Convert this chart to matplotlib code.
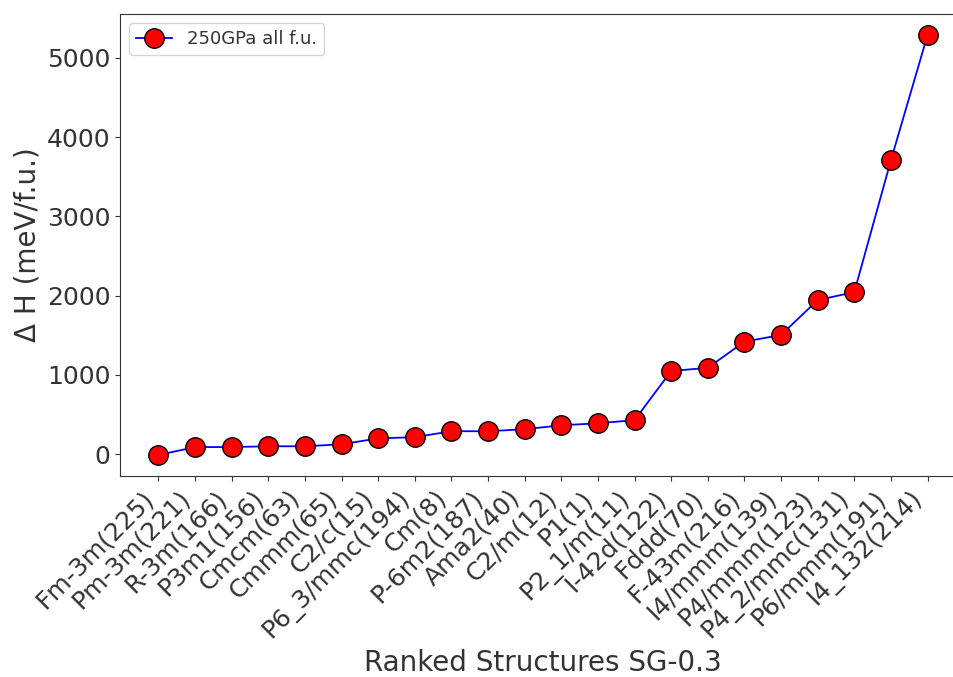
import matplotlib
matplotlib.use("Agg")
import matplotlib.pyplot as plt

# ranked structures and their enthalpy differences
structures = ["Fm-3m(225)", "Pm-3m(221)", "R-3m(166)", "P3m1(156)", "Cmcm(63)",
              "Cmmm(65)", "C2/c(15)", "P6_3/mmc(194)", "Cm(8)", "P-6m2(187)",
              "Ama2(40)", "C2/m(12)", "P1(1)", "P2_1/m(11)", "I-42d(122)",
              "Fddd(70)", "F-43m(216)", "I4/mmm(139)", "P4/mmm(123)",
              "P4_2/mmc(131)", "P6/mmm(191)", "I4_132(214)"]
dH = [-10, 90, 90, 100, 100, 125, 200, 215, 290, 290, 315, 365, 390, 430,
      1050, 1090, 1420, 1505, 1945, 2045, 3710, 5290]

plt.rcParams['text.color'] = '#333333'
plt.rcParams['axes.labelcolor'] = '#333333'
plt.rcParams['xtick.color'] = '#333333'
plt.rcParams['ytick.color'] = '#333333'
plt.rcParams['axes.edgecolor'] = '#333333'

fig = plt.figure(figsize=(9.54, 6.77), dpi=100)
ax = fig.add_axes([120/954, 1 - 476/677, 846/954, 462/677])

x = list(range(len(structures)))
ax.plot(x, dH, '-o', color='blue', lw=1.3, markersize=14,
        markerfacecolor='red', markeredgecolor='black', label='250GPa all f.u.')

ax.set_xticks(x)
ax.set_xticklabels(structures, rotation=45, ha='right', fontsize=18)
ax.tick_params(axis='y', labelsize=18)
ax.set_xlabel('Ranked Structures SG-0.3', fontsize=20)
ax.set_ylabel('Δ H (meV/f.u.)', fontsize=20)
ax.spines['right'].set_visible(False)
ax.legend(loc='upper left', fontsize=13)

fig.savefig('out.png', dpi=100)
